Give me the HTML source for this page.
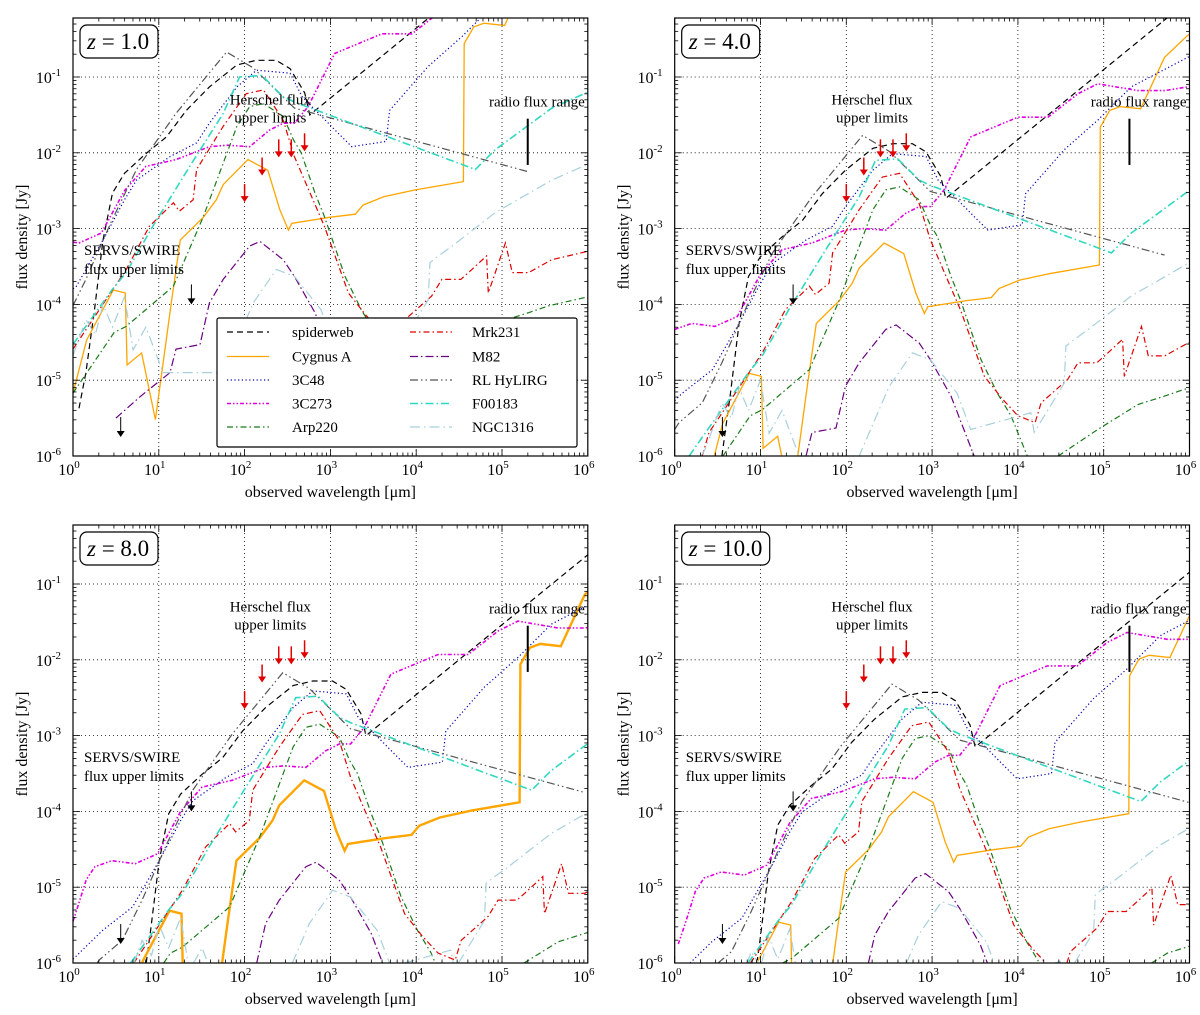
<!DOCTYPE html>
<html><head><meta charset="utf-8">
<style>
html,body{margin:0;padding:0;background:#fff;width:1200px;height:1015px;overflow:hidden;}
svg{display:block;}
svg text{font-family:"Liberation Serif",serif;fill:#000;}
</style></head>
<body>
<svg id="chart" width="1200" height="1015" viewBox="0 0 1200 1015" xmlns="http://www.w3.org/2000/svg"></svg>
<script>
// ---- data (log10 wavelength [um], log10 flux [Jy]) in the z=4 observed frame ----
const seriesNames = ["spiderweb","Cygnus A","3C48","3C273","Arp220","Mrk231","M82","RL HyLIRG","F00183","NGC1316"];
const spiderwebLx = [0.47,0.55,0.65,0.75,0.86,1.0,1.25,1.49,1.72,1.99,2.31,2.54,2.77,2.93,3.1,3.16,5.75,6.5];
const spiderwebLy = [-6.47,-6.0,-5.17,-4.25,-3.63,-3.37,-3.11,-2.89,-2.54,-2.23,-1.94,-1.88,-1.88,-1.99,-2.31,-2.6,-0.21,0.48];
const cygnusLx = [-0.4,0.4,0.56,0.87,1.01,1.03,1.2,1.36,1.55,1.65,1.92,2.07,2.15,2.44,2.67,2.81,2.91,2.95,3.4,3.69,3.78,4.02,4.39,4.95,4.96,5.07,5.19,5.43,5.71,5.98,6.4];
const cygnusLy = [-8.1,-6.27,-5.57,-4.91,-4.95,-5.9,-5.74,-6.62,-5.04,-4.25,-3.95,-3.72,-3.52,-3.19,-3.33,-3.85,-4.12,-4.03,-3.95,-3.91,-3.79,-3.68,-3.59,-3.48,-1.66,-1.44,-1.39,-1.42,-0.74,-0.45,-0.2];
const c3c48Lx = [-0.3,0.09,0.44,0.75,1.0,1.14,1.53,1.84,1.99,2.31,2.54,2.93,3.07,3.49,3.65,4.05,4.09,4.54,4.93,5.32,5.98,6.4];
const c3c48Ly = [-5.6,-5.17,-4.86,-4.25,-3.72,-3.46,-3.15,-2.97,-2.71,-2.23,-2.01,-2.05,-2.36,-2.84,-3.02,-2.95,-2.54,-1.96,-1.57,-1.13,-0.74,-0.5];
const c3c273Lx = [-0.3,-0.22,-0.1,0.0,0.2,0.47,0.73,1.0,1.25,1.6,1.99,2.2,2.46,2.69,2.85,2.98,3.14,3.45,4.0,4.35,4.7,4.93,5.4,5.71,5.98,6.4];
const c3c273Ly = [-5.2,-4.93,-4.5,-4.33,-4.25,-4.29,-4.16,-3.6,-3.28,-3.19,-3.02,-3.0,-3.02,-2.8,-2.71,-2.71,-2.49,-1.79,-1.53,-1.53,-1.22,-1.09,-1.18,-1.18,-1.13,-1.1];
const arp220Lx = [0.0,0.4,0.88,1.02,1.57,1.92,2.31,2.46,2.62,2.85,2.97,3.06,3.22,3.33,3.57,3.76,3.92,4.11,4.3,4.47,4.93,5.4,5.71,5.94,6.4];
const arp220Ly = [-7.0,-6.27,-5.47,-5.39,-4.86,-3.94,-2.75,-2.49,-2.45,-2.62,-2.93,-3.1,-3.63,-3.94,-4.73,-5.17,-5.47,-6.0,-6.3,-6.0,-5.65,-5.32,-5.21,-5.12,-5.0];
const mrk231Lx = [0.0,0.32,0.4,1.02,1.29,1.57,1.64,1.8,1.84,2.15,2.42,2.62,2.85,2.98,3.33,3.61,3.82,4.0,4.2,4.27,4.58,4.7,4.92,5.01,5.22,5.24,5.44,5.52,5.71,5.98,6.4];
const mrk231Ly = [-6.8,-6.0,-5.69,-4.64,-4.07,-3.76,-3.87,-3.72,-3.32,-2.75,-2.32,-2.27,-2.67,-3.15,-4.07,-4.95,-5.25,-5.47,-5.56,-5.3,-4.99,-4.77,-4.77,-4.68,-4.46,-4.95,-4.29,-4.68,-4.68,-4.51,-4.4];
const m82Lx = [0.9,1.2,1.53,1.6,1.88,1.99,2.15,2.46,2.58,2.85,2.98,3.22,3.49,3.8];
const m82Ly = [-6.6,-6.3,-6.0,-5.69,-5.63,-5.08,-4.77,-4.33,-4.27,-4.51,-4.73,-5.21,-6.0,-6.8];
const hylirgLx = [-0.3,0.05,0.32,0.55,0.85,1.14,1.6,2.19,2.5,2.98,5.71];
const hylirgLy = [-6.2,-5.56,-5.3,-4.77,-4.0,-3.32,-2.58,-1.77,-1.98,-2.51,-3.35];
const f00183Lx = [-0.2,0.36,0.86,1.02,1.33,1.76,2.15,2.34,2.6,2.85,2.98,5.09,5.32,5.98,6.4];
const f00183Ly = [-6.6,-5.69,-4.9,-4.68,-4.07,-3.28,-2.58,-2.1,-2.08,-2.36,-2.43,-3.32,-3.06,-2.51,-2.3];
const ngc1316Lx = [0.2,0.36,0.55,0.66,0.75,0.86,1.0,1.1,1.25,1.45,2.15,2.5,2.77,2.98,3.29,3.45,4.15,4.19,4.54,4.56,4.66,4.82,5.32,5.98,6.4];
const ngc1316Ly = [-6.2,-5.9,-5.3,-5.5,-5.1,-5.4,-5.0,-5.7,-5.4,-6.0,-6.0,-5.08,-4.64,-4.73,-5.17,-5.65,-5.43,-5.69,-5.04,-4.55,-4.46,-4.33,-3.89,-3.46,-3.25];
// ---- panels ----
const panelZ = ["1.0","4.0","8.0","10.0"];
const panelShiftX = [-0.4,0,0.255,0.342];
const panelShiftY = [1.1,0,-0.4,-0.55];
// ---- annotations (log10 values, panel frame) ----
const herschelLx = [2.0,2.204,2.398,2.544,2.699];
const herschelTipLy = [-2.65,-2.3,-2.06,-2.06,-1.98];
const servsLx = [0.556,1.38];
const servsTipLy = [-5.75,-4.0];
const radioLx = 5.3;
const radioRange = [-1.55,-2.16];
const xTickExp = [0,1,2,3,4,5,6];
const yTickExp = [-1,-2,-3,-4,-5,-6];

const NS="http://www.w3.org/2000/svg";
const svg=document.getElementById('chart');
function el(tag,attrs,parent){const e=document.createElementNS(NS,tag);for(const k in attrs)e.setAttribute(k,attrs[k]);(parent||svg).appendChild(e);return e;}

// Liang-Barsky segment clipping
function clipSeg(x0,y0,x1,y1,r){
  let t0=0,t1=1;const dx=x1-x0,dy=y1-y0;
  const p=[-dx,dx,-dy,dy],q=[x0-r.l,r.r-x0,y0-r.t,r.b-y0];
  for(let i=0;i<4;i++){
    if(p[i]===0){if(q[i]<0)return null;}
    else{const t=q[i]/p[i];if(p[i]<0){if(t>t1)return null;if(t>t0)t0=t;}else{if(t<t0)return null;if(t<t1)t1=t;}}
  }
  return [x0+t0*dx,y0+t0*dy,x0+t1*dx,y0+t1*dy];
}

const seriesStyle=[
 {lx:spiderwebLx,ly:spiderwebLy,c:"#000",w:1.2,d:"6,4",n:"spiderweb-line"},
 {lx:cygnusLx,ly:cygnusLy,c:"#FFA500",w:1.3,d:"",n:"cygnus-a-line"},
 {lx:c3c48Lx,ly:c3c48Ly,c:"#0000b0",w:1.2,d:"1.2,2.5",n:"3c48-line"},
 {lx:c3c273Lx,ly:c3c273Ly,c:"#e000e0",w:1.6,d:"4,2,1.5,2,1.5,2",n:"3c273-line"},
 {lx:arp220Lx,ly:arp220Ly,c:"#1a7a1a",w:1.2,d:"6,3,1.5,3",n:"arp220-line"},
 {lx:mrk231Lx,ly:mrk231Ly,c:"#e00000",w:1.2,d:"6,3,1.5,3",n:"mrk231-line"},
 {lx:m82Lx,ly:m82Ly,c:"#6a0080",w:1.2,d:"8,3,1.5,3",n:"m82-line"},
 {lx:hylirgLx,ly:hylirgLy,c:"#555",w:1.2,d:"8,3,1.5,3,1.5,3",n:"rl-hylirg-line"},
 {lx:f00183Lx,ly:f00183Ly,c:"#30d8c0",w:1.6,d:"8,3,1.5,3",n:"f00183-line"},
 {lx:ngc1316Lx,ly:ngc1316Ly,c:"#a8d0dc",w:1.2,d:"10,4,1.5,4",n:"ngc1316-line"}
];

const panels=[
 {x0:73,ym1:77},{x0:674.7,ym1:77},{x0:73,ym1:584},{x0:674.7,ym1:584}
];
const DX=85.8, DY=75.8;

panels.forEach((p,pi)=>{
  const g=el('g',{});
  
  
  const X=l=>p.x0+l*DX, Y=l=>p.ym1+(-1-l)*DY;
  const left=X(0),right=X(6),top=p.ym1-59,bottom=Y(-6);
  const rect={l:left,r:right,t:top,b:bottom};
  xTickExp.forEach(e=>{ if(e>0&&e<6){const l=el('line',{x1:X(e),x2:X(e),y1:top,y2:bottom,stroke:"#000","stroke-width":0.8,"stroke-dasharray":"1,3"},g);}});
  yTickExp.forEach(e=>{ if(e>-6){const l=el('line',{x1:left,x2:right,y1:Y(e),y2:Y(e),stroke:"#000","stroke-width":0.8,"stroke-dasharray":"1,3"},g);}});
  const sg=el('g',{},g);
  seriesStyle.forEach(s=>{
    let d='',px=null,py=null;
    for(let i=0;i<s.lx.length-1;i++){
      const c=clipSeg(X(s.lx[i]+panelShiftX[pi]),Y(s.ly[i]+panelShiftY[pi]),X(s.lx[i+1]+panelShiftX[pi]),Y(s.ly[i+1]+panelShiftY[pi]),rect);
      if(!c){px=null;continue;}
      if(px===null||Math.abs(px-c[0])>0.01||Math.abs(py-c[1])>0.01)d+='M'+c[0].toFixed(1)+','+c[1].toFixed(1);
      d+='L'+c[2].toFixed(1)+','+c[3].toFixed(1);
      px=c[2];py=c[3];
    }
    if(!d)return;
    const w=(pi==2&&s.n=="cygnus-a-line")?2.4:s.w;
    const path=el('path',{d:d,fill:"none",stroke:s.c,"stroke-width":w,"stroke-dasharray":s.d},sg);
    
    
  });
  herschelLx.forEach((lx,i)=>{
    const x=X(lx),ty=Y(herschelTipLy[i]);
    const a=el('g',{},g);
    
    
    el('line',{x1:x,x2:x,y1:ty-18,y2:ty-5,stroke:"#e00000","stroke-width":1.5},a);
    el('path',{d:`M${x-4},${ty-6}L${x+4},${ty-6}L${x},${ty}Z`,fill:"#e00000"},a);
  });
  servsLx.forEach((lx,i)=>{
    const x=X(lx),ty=Y(servsTipLy[i]);
    const a=el('g',{},g);
    
    
    el('line',{x1:x,x2:x,y1:ty-20,y2:ty-5,stroke:"#000","stroke-width":1},a);
    el('path',{d:`M${x-4},${ty-6}L${x+4},${ty-6}L${x},${ty}Z`,fill:"#000"},a);
  });
  const rb=el('line',{x1:X(radioLx),x2:X(radioLx),y1:Y(radioRange[0]),y2:Y(radioRange[1]),stroke:"#000","stroke-width":2},g);
  
  
  const t1=el('text',{x:X(2.3),y:Y(-1.36),"font-size":15,"text-anchor":"middle"},g);t1.textContent="Herschel flux";
  
  const t2=el('text',{x:X(2.3),y:Y(-1.36)+18,"font-size":15,"text-anchor":"middle"},g);t2.textContent="upper limits";
  
  const t3=el('text',{x:right-3,y:Y(-1.39),"font-size":15,"text-anchor":"end"},g);t3.textContent="radio flux range";
  
  const t4=el('text',{x:left+11,y:Y(-3.35),"font-size":15},g);t4.textContent="SERVS/SWIRE";
  
  const t5=el('text',{x:left+11,y:Y(-3.35)+19,"font-size":15},g);t5.textContent="flux upper limits";
  
  el('rect',{x:left,y:top,width:right-left,height:bottom-top,fill:"none",stroke:"#000","stroke-width":1.2},g);
  for(let e=0;e<6;e++){for(let m=1;m<10;m++){const lx=e+Math.log10(m);const x=X(lx);const L=m==1?7:3.5;
    el('line',{x1:x,x2:x,y1:bottom,y2:bottom-L,stroke:"#000","stroke-width":0.8},g);
    el('line',{x1:x,x2:x,y1:top,y2:top+L,stroke:"#000","stroke-width":0.8},g);}}
  for(let e=-6;e<0;e++){for(let m=1;m<10;m++){const ly=e+Math.log10(m);if(ly>-0.22)continue;const y=Y(ly);const L=m==1?7:3.5;
    el('line',{x1:left,x2:left+L,y1:y,y2:y,stroke:"#000","stroke-width":0.8},g);
    el('line',{x1:right,x2:right-L,y1:y,y2:y,stroke:"#000","stroke-width":0.8},g);}}
  xTickExp.forEach(e=>{const t=el('text',{x:X(e)-4,y:bottom+19,"font-size":16,"text-anchor":"middle"},g);
    
    t.textContent="10";const s=el('tspan',{dy:-7,"font-size":11},t);s.textContent=String(e);});
  yTickExp.forEach(e=>{const t=el('text',{x:left-12,y:Y(e)+6,"font-size":16,"text-anchor":"end"},g);
    
    t.textContent="10";const s=el('tspan',{dy:-7,"font-size":11},t);s.textContent=String(e);});
  const xt=el('text',{x:(left+right)/2,y:bottom+41,"font-size":16,"text-anchor":"middle"},g);
  
  xt.textContent="observed wavelength [\u03bcm]";
  const yt=el('text',{x:0,y:0,"font-size":16,"text-anchor":"middle",transform:`translate(${left-46},${(top+bottom)/2}) rotate(-90)`},g);
  
  yt.textContent="flux density [Jy]";
  const zb=el('g',{},g);
  
  
  const bw=panelZ[pi].length>3?88:78;
  el('rect',{x:left+7,y:top+7,width:bw,height:33,rx:7,fill:"#fff",stroke:"#000","stroke-width":1.2},zb);
  const zt=el('text',{x:left+14,y:top+31,"font-size":23},zb);
  const zi=el('tspan',{"font-style":"italic"},zt);zi.textContent="z";
  const zr=el('tspan',{},zt);zr.textContent=" = "+panelZ[pi];
  if(pi==0){
    const lg=el('g',{},g);
    
    
    el('rect',{x:217,y:318,width:360,height:129,fill:"#fff",stroke:"#000","stroke-width":1.2,rx:2},lg);
    const rowsY=[332,356.5,380,403.5,427];
    seriesStyle.forEach((s,i)=>{
      const col=Math.floor(i/5),row=i%5;
      const lx0=col?410:227, tx=col?472:292, y=rowsY[row];
      const e=el('g',{},lg);
      
      
      el('line',{x1:lx0,x2:lx0+42,y1:y,y2:y,stroke:s.c,"stroke-width":s.w,"stroke-dasharray":s.d},e);
      const t=el('text',{x:tx,y:y+5,"font-size":15},e);t.textContent=seriesNames[i];
    });
  }
});
</script>
</body></html>
